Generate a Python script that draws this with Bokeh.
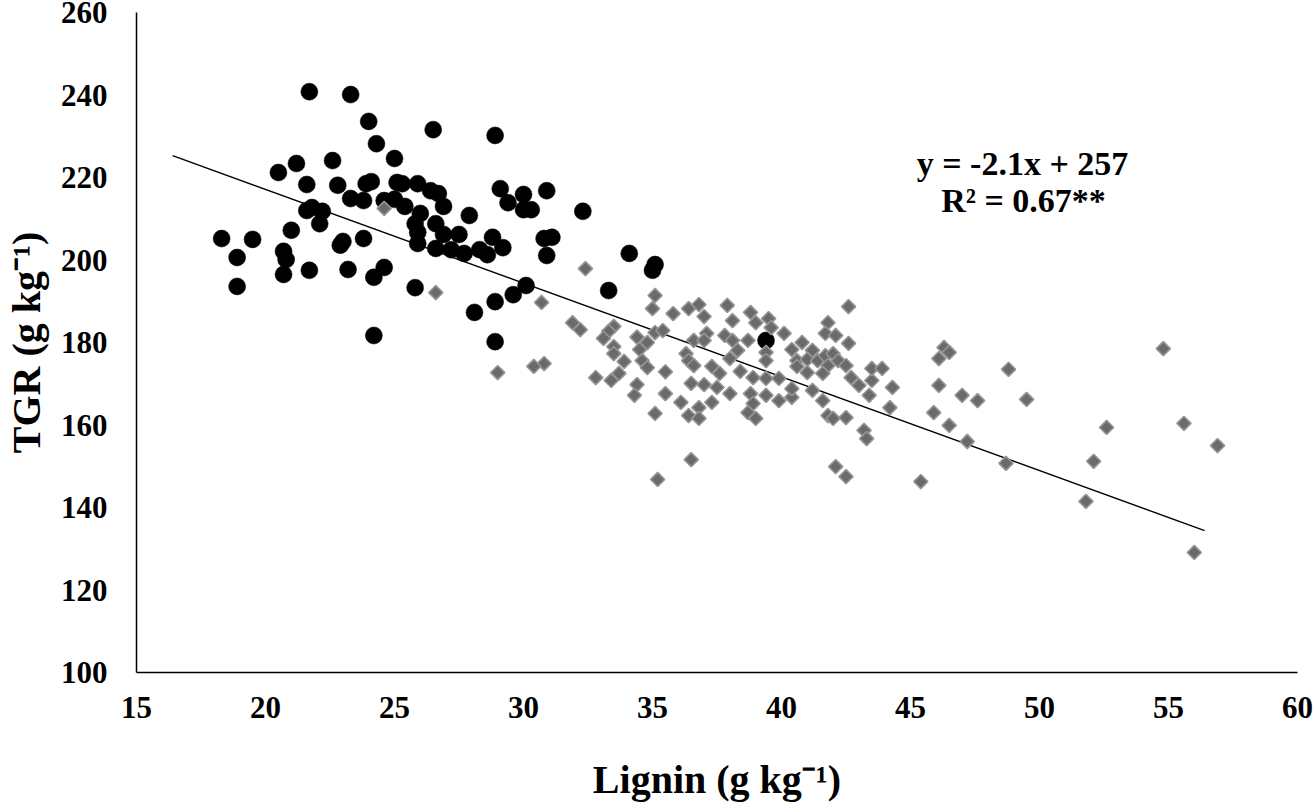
import math
from bokeh.plotting import figure
from bokeh.models import Range1d, FixedTicker, Label
from bokeh.embed import file_html
from bokeh.resources import INLINE

# ---------------- data ----------------
black_x = [21.7, 23.3, 24.0, 24.3, 25.0, 21.2, 22.6, 20.5, 21.6, 22.8,
           23.9, 24.1, 25.1, 25.3, 25.9, 23.3, 23.8, 24.6, 25.0, 21.6,
           21.8, 22.2, 22.1, 21.0, 18.3, 19.5, 23.0, 22.9, 23.8, 18.9,
           20.7, 20.8, 20.7, 21.7, 23.2, 24.6, 24.2, 18.9, 24.2, 26.5,
           28.9, 26.4, 26.7, 25.4, 26.9, 27.9, 29.1, 29.4, 30.0, 30.0,
           30.3, 30.9, 32.3, 26.0, 25.8, 25.9, 26.6, 26.9, 27.5, 25.9,
           26.6, 27.2, 27.7, 28.3, 28.6, 28.8, 29.2, 30.8, 31.1, 30.9,
           25.8, 30.1, 29.6, 28.9, 28.1, 28.9, 33.3, 34.1, 35.1, 35.0,
           39.4]
black_y = [240.8, 240.1, 233.6, 228.2, 224.6, 223.4, 224.1, 221.2, 218.3, 218.1,
           218.5, 219.0, 218.8, 218.5, 218.5, 214.9, 214.4, 214.4, 214.7, 212.0,
           212.7, 211.8, 208.8, 207.2, 205.2, 205.0, 204.5, 203.6, 205.2, 200.6,
           202.1, 200.1, 196.5, 197.5, 197.7, 198.2, 195.8, 193.6, 181.7, 231.6,
           230.2, 216.8, 216.1, 213.0, 213.0, 210.8, 217.3, 213.9, 215.9, 212.2,
           212.2, 216.8, 211.8, 211.3, 208.8, 206.7, 208.8, 206.2, 206.2, 204.0,
           202.8, 202.5, 201.6, 202.5, 201.3, 205.5, 203.0, 205.2, 205.5, 201.1,
           193.3, 193.8, 191.6, 189.9, 187.3, 180.2, 192.6, 201.6, 198.9, 197.5,
           180.5]

gray_x = [24.6, 26.6, 32.4, 30.7, 31.9, 32.2, 33.5, 33.3, 33.1, 30.8,
          29.0, 30.4, 33.5, 33.5, 33.9, 33.7, 33.4, 32.8, 34.4, 34.8,
          34.5, 34.6, 34.8, 35.1, 35.0, 35.1, 35.4, 35.5, 34.4, 34.3,
          35.1, 35.5, 35.8, 36.4, 36.8, 37.0, 36.3, 36.4, 36.6, 36.6,
          37.1, 37.0, 36.5, 37.0, 37.3, 37.6, 37.5, 36.1, 36.4, 36.8,
          36.8, 37.3, 37.9, 38.1, 37.8, 38.1, 38.3, 38.0, 38.4, 38.8,
          39.0, 38.7, 38.9, 38.0, 38.8, 38.9, 38.7, 39.0, 36.5, 35.2,
          39.4, 39.9, 40.4, 40.4, 41.6, 41.2, 41.8, 42.0, 42.5, 43.4,
          43.0, 43.5, 42.1, 42.5, 43.2, 43.3, 39.5, 39.6, 40.1, 42.6,
          41.8, 41.7, 42.1, 42.6, 39.4, 39.4, 40.4, 40.8, 41.2, 40.6,
          41.0, 41.4, 41.7, 42.0, 41.8, 42.2, 40.6, 41.0, 41.6, 39.4,
          39.9, 42.5, 42.7, 43.5, 43.9, 44.3, 44.2, 46.3, 46.5, 46.1,
          46.1, 45.9, 46.5, 47.0, 47.6, 47.2, 45.4, 48.8, 49.5, 48.7,
          52.6, 52.1, 51.8, 54.8, 55.6, 56.9, 56.0]
gray_y = [212.5, 192.1, 197.9, 189.7, 184.8, 183.1, 183.9, 182.7, 181.0, 174.9,
          172.7, 174.2, 179.0, 177.3, 175.4, 172.5, 170.8, 171.5, 181.3, 180.0,
          178.3, 175.6, 173.9, 191.4, 188.2, 182.4, 182.9, 172.9, 169.8, 167.2,
          162.8, 167.6, 187.0, 188.2, 189.2, 186.3, 177.3, 175.6, 180.5, 174.4,
          182.2, 180.5, 170.1, 169.8, 174.2, 172.5, 169.1, 165.5, 162.3, 164.2,
          161.6, 165.5, 189.0, 185.3, 181.7, 180.5, 178.1, 176.1, 173.0, 187.3,
          184.8, 180.5, 171.5, 167.6, 167.6, 165.2, 163.0, 161.6, 151.6, 146.8,
          167.2, 165.9, 166.7, 168.8, 165.9, 168.4, 162.3, 161.6, 161.8, 167.2,
          169.6, 170.8, 149.9, 147.5, 158.7, 156.7, 185.8, 183.6, 182.2, 188.7,
          184.8, 182.2, 181.7, 179.8, 177.6, 175.6, 178.3, 180.0, 178.1, 175.6,
          175.9, 175.6, 176.8, 177.3, 174.4, 175.6, 174.2, 172.7, 172.5, 171.3,
          171.3, 174.4, 171.5, 173.7, 173.7, 169.1, 164.2, 178.8, 177.6, 176.1,
          169.6, 163.0, 159.9, 167.2, 165.9, 156.0, 146.3, 173.5, 166.2, 150.7,
          159.4, 151.2, 141.5, 178.5, 160.4, 155.0, 129.1]

trend_x = [16.4, 56.4]
trend_y = [225.3, 134.4]

x_ticks = [15, 20, 25, 30, 35, 40, 45, 50, 55, 60]
y_ticks = [100, 120, 140, 160, 180, 200, 220, 240, 260]

equation_text = "y = -2.1x + 257"
r2_text = "R\u00b2 = 0.67**"
x_title = "Lignin (g kg\u207b\u00b9)"
y_title = "TGR (g kg\u207b\u00b9)"

# ---------------- layout / style ----------------
FONT = "Liberation Serif"
FRAME_L, FRAME_T, FRAME_W, FRAME_H = 136, 12, 1161, 660
BORDER_R, BORDER_B = 16, 132
X0, X1, Y0, Y1 = 15, 60, 100, 260


def dx(fx):  # figure pixel -> data x
    return X0 + (fx - FRAME_L) * (X1 - X0) / FRAME_W


def dy(fy):  # figure pixel -> data y
    return Y0 + (FRAME_T + FRAME_H - fy) * (Y1 - Y0) / FRAME_H


p = figure(frame_width=FRAME_W, frame_height=FRAME_H,
           min_border_left=FRAME_L, min_border_right=BORDER_R,
           min_border_top=FRAME_T, min_border_bottom=BORDER_B,
           x_range=Range1d(X0, X1), y_range=Range1d(Y0, Y1),
           output_backend="svg", toolbar_location=None,
           background_fill_color="white", border_fill_color="white")
p.outline_line_color = None
p.xgrid.visible = False
p.ygrid.visible = False

for ax, ticks, standoff in ((p.xaxis, x_ticks, 24), (p.yaxis, y_ticks, 29)):
    ax.ticker = FixedTicker(ticks=ticks)
    ax.axis_line_color = "black"
    ax.axis_line_width = 1.5
    ax.major_tick_line_color = None
    ax.minor_tick_line_color = None
    ax.major_tick_out = 0
    ax.major_tick_in = 0
    ax.major_label_standoff = standoff
    ax.major_label_text_font = FONT
    ax.major_label_text_font_style = "bold"
    ax.major_label_text_font_size = "31px"
    ax.major_label_text_color = "black"
    ax.axis_label_text_font = FONT
    ax.axis_label_text_font_style = "bold"
    ax.axis_label_text_font_size = "40px"
    ax.axis_label_text_color = "black"

p.xaxis.axis_label = x_title
p.yaxis.axis_label = y_title
p.xaxis.axis_label_standoff = 36
p.yaxis.axis_label_standoff = 9

# trend line
p.line(trend_x, trend_y, line_color="black", line_width=1.4)

# black circles then gray diamonds
p.scatter(black_x, black_y, marker="circle", size=17,
          fill_color="black", line_color="black", line_width=0.5)
p.scatter(gray_x, gray_y, marker="square", angle=math.pi / 4, size=10,
          fill_color="#6a6a6a", line_color="#959595", line_width=1.6)

# equation text
p.add_layout(Label(x=dx(1022), y=dy(163), text=equation_text,
                   text_align="center", text_baseline="alphabetic",
                   text_font=FONT, text_font_style="bold",
                   text_font_size="34px", text_color="black"))
p.add_layout(Label(x=dx(1023), y=dy(200), text=r2_text,
                   text_align="center", text_baseline="alphabetic",
                   text_font=FONT, text_font_style="bold",
                   text_font_size="34px", text_color="black"))

open("out.html", "w").write(file_html(p, INLINE))
